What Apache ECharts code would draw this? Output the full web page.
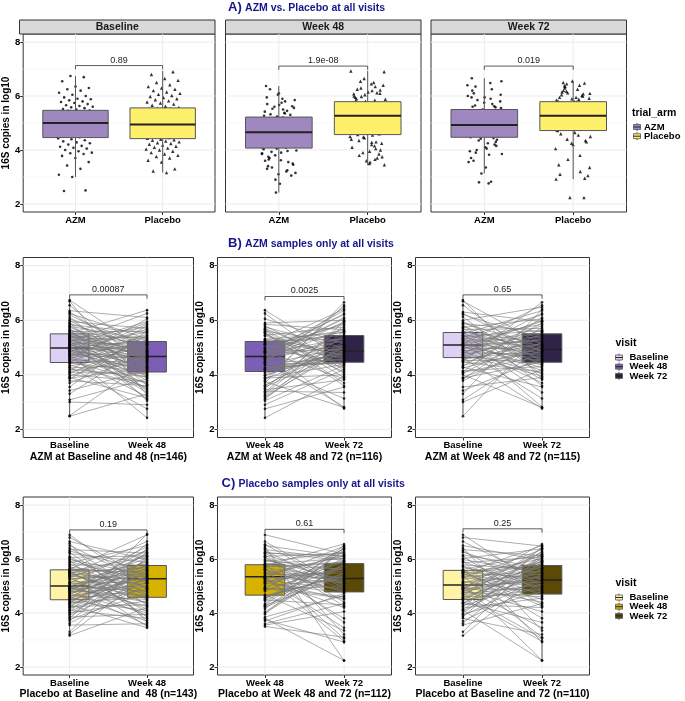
<!DOCTYPE html>
<html>
<head>
<meta charset="utf-8">
<script src="https://cdn.jsdelivr.net/npm/echarts@6/dist/echarts.min.js"></script>
<style>
html,body{margin:0;padding:0;background:#fff;}
#main{width:685px;height:701px;}
</style>
</head>
<body>
<div id="main"></div>
<script>
// ---- ticks / categories
var yTicks = [2, 4, 6, 8];
var yMinor = [3, 5, 7];
var armCats = ['AZM', 'Placebo'];
var facetNames = ['Baseline', 'Week 48', 'Week 72'];

// ---- 16S copies (log10) per subject, AZM arm (null = visit missing)
var azmBase = [2.48,2.50,3.00,3.08,3.30,3.42,3.55,3.70,3.78,3.85,
  3.88,3.90,3.95,4.00,4.05,4.08,4.12,4.15,4.20,4.25,
  4.28,4.32,4.36,4.40,4.43,4.47,4.50,4.52,4.55,4.58,
  4.60,4.62,4.65,4.67,4.70,4.72,4.74,4.76,4.78,4.80,
  4.82,4.84,4.86,4.88,4.90,4.92,4.94,4.96,4.97,4.99,
  5.01,5.03,5.05,5.07,5.09,5.10,5.12,5.14,5.16,5.18,
  5.20,5.22,5.24,5.26,5.28,5.30,5.32,5.34,5.36,5.38,
  5.40,5.42,5.43,5.45,5.46,5.50,5.52,5.55,5.58,5.60,
  5.63,5.66,5.70,5.74,5.78,5.80,5.84,5.88,5.90,5.95,
  6.00,6.05,6.12,6.20,6.25,6.30,6.35,6.55,6.70,6.74];
var azmW48 = [3.30,4.50,2.90,3.85,5.10,4.16,5.62,4.72,3.60,5.45,
  4.25,3.15,4.90,3.75,5.30,4.05,4.60,5.80,3.93,4.37,
  2.75,4.83,3.55,5.03,4.10,5.50,3.70,4.46,6.05,4.28,
  3.20,4.98,5.85,3.90,4.62,5.16,2.42,4.70,5.38,4.19,
  3.50,5.67,4.54,3.96,5.08,4.34,5.90,3.65,4.86,5.24,
  4.03,4.93,3.35,5.56,4.64,5.95,4.22,3.80,5.12,4.48,
  6.25,4.75,3.10,5.42,4.58,5.00,4.13,5.75,3.40,4.88,
  5.19,4.40,5.35,4.65,3.45,4.80,6.37,4.31,5.60,3.98,
  5.20,4.56,3.05,4.67,5.27,4.08,5.53,4.96,3.62,5.70,
  4.43,5.14,3.88,4.78,5.32,4.52,6.10,4.26,3.25,4.85];
var azmW72 = [5.60,null,4.20,4.95,6.40,4.60,3.90,null,5.20,5.75,
  4.47,5.05,null,2.80,5.55,4.70,6.10,4.30,null,5.00,
  3.55,5.90,4.85,null,5.35,4.10,6.66,4.55,5.15,null,
  4.90,2.76,5.65,4.38,null,5.45,3.95,6.25,null,4.75,
  5.80,4.05,null,5.10,4.62,3.13,6.00,null,4.93,5.30,
  null,4.50,5.95,3.70,5.25,null,4.80,6.55,4.25,5.40,
  4.15,null,5.50,4.68,2.82,5.85,null,4.98,3.35,6.20,
  5.62,4.42,null,5.08,3.82,6.35,4.58,null,5.18,4.88,
  null,5.70,4.35,6.05,4.72,null,3.60,5.58,5.02,4.52,
  6.48,null,4.00,5.33,4.83,5.95,null,4.44,5.12,3.85];

// ---- Placebo arm
var plaBase = [3.16,3.22,3.30,3.55,3.62,3.70,3.76,3.80,3.85,3.90,
  3.95,4.00,4.03,4.07,4.10,4.14,4.18,4.21,4.24,4.27,
  4.30,4.33,4.36,4.38,4.40,4.43,4.46,4.49,4.52,4.55,
  4.58,4.60,4.63,4.65,4.68,4.70,4.72,4.75,4.77,4.79,
  4.81,4.83,4.85,4.87,4.89,4.90,4.91,4.92,4.93,4.94,
  4.96,4.99,5.02,5.05,5.08,5.11,5.14,5.17,5.20,5.23,
  5.26,5.29,5.32,5.35,5.37,5.39,5.41,5.43,5.45,5.47,
  5.49,5.51,5.53,5.54,5.55,5.58,5.62,5.66,5.70,5.74,
  5.78,5.82,5.86,5.90,5.94,5.98,6.02,6.06,6.10,6.15,
  6.20,6.25,6.30,6.35,6.42,6.50,6.58,6.65,6.80,6.90];
var plaW48 = [4.20,5.40,6.10,3.60,5.05,5.85,4.75,6.40,3.95,5.30,
  5.60,4.45,6.93,5.15,3.80,5.70,4.90,6.00,4.30,5.50,
  3.45,5.25,6.25,4.60,5.80,4.10,5.45,6.55,4.85,5.35,
  5.95,3.70,5.10,4.50,6.20,5.65,4.00,5.55,4.95,6.35,
  4.65,5.20,3.55,5.90,5.00,6.05,4.40,5.75,5.28,4.25,
  6.15,4.80,5.62,3.90,5.38,6.45,4.57,5.10,null,5.72,
  5.45,4.15,6.30,5.27,3.50,5.82,4.70,6.65,5.18,4.55,
  4.35,5.68,5.00,6.08,4.05,5.52,6.90,4.78,5.33,3.85,
  5.78,4.62,6.50,5.22,3.75,5.42,4.92,6.12,4.48,null,
  5.88,4.28,5.58,6.22,4.68,5.12,3.65,5.98,5.30,4.88];
var plaW72 = [5.50,null,6.20,4.35,5.90,5.10,null,3.20,6.45,5.30,
  4.80,6.05,null,5.65,2.24,5.85,4.55,null,6.30,5.20,
  null,4.20,5.95,5.40,3.65,null,6.10,4.90,5.75,2.95,
  5.60,4.72,null,6.40,5.05,3.05,5.80,null,4.60,6.00,
  5.35,null,4.05,6.25,5.25,4.85,null,6.56,3.45,5.70,
  4.40,5.92,5.15,null,6.15,2.24,5.45,4.75,null,5.88,
  null,6.35,4.95,5.55,3.10,6.02,null,5.00,4.50,5.78,
  6.50,5.28,null,4.25,5.82,3.80,6.18,null,5.12,4.65,
  5.62,null,6.08,4.88,2.92,5.48,6.38,null,4.30,5.68,
  null,5.38,4.78,6.12,3.35,5.95,null,5.22,6.48,4.98];

// ---- box statistics [lower whisker, Q1, median, Q3, upper whisker]
var boxAzmA = [[3.00,4.46,5.00,5.47,6.74],[2.42,4.07,4.66,5.22,6.37],[3.13,4.47,4.93,5.50,6.66]];
var boxPlaA = [[3.16,4.42,4.94,5.56,6.93],[3.44,4.57,5.27,5.79,6.93],[2.92,4.72,5.27,5.79,6.56]];
var pA = ['0.89', '1.9e-08', '0.019'];
var bracketA = [7.13, 7.11, 7.11];

var pairCatsB = [['Baseline','Week 48'],['Week 48','Week 72'],['Baseline','Week 72']];
var pairNamesB = ['AZM at Baseline and 48 (n=146)','AZM at Week 48 and 72 (n=116)','AZM at Week 48 and 72 (n=115)'];
var boxB = [[[2.50,4.45,4.98,5.50,6.75],[2.40,4.10,4.67,5.22,6.40]],
  [[2.40,4.12,4.67,5.22,6.40],[2.75,4.46,4.87,5.44,6.65]],
  [[2.50,4.63,5.09,5.55,6.73],[2.75,4.46,4.93,5.50,6.64]]];
var pB = ['0.00087', '0.0025', '0.65'];
var bracketB = [6.93, 6.87, 6.93];

var pairCatsC = [['Baseline','Week 48'],['Week 48','Week 72'],['Baseline','Week 72']];
var pairNamesC = ['Placebo at Baseline and  48 (n=143)','Placebo at Week 48 and 72 (n=112)','Placebo at Baseline and 72 (n=110)'];
var boxC = [[[3.34,4.49,5.00,5.60,6.88],[3.40,4.58,5.27,5.76,6.90]],
  [[3.45,4.66,5.34,5.79,6.90],[2.85,4.78,5.28,5.83,6.50]],
  [[3.80,4.50,5.04,5.58,6.85],[2.25,4.70,5.22,5.76,6.50]]];
var pC = ['0.19', '0.61', '0.25'];
var bracketC = [7.08, 7.10, 7.12];

var FONT = "'Liberation Sans', Arial, Helvetica, sans-serif";
var NAVY = '#16168c';
var armColors = {'AZM':'#9f88c0', 'Placebo':'#fff06c'};
var visitColB = {'Baseline':'#ddd0f4', 'Week 48':'#7d5eb7', 'Week 72':'#2f2448'};
var visitColC = {'Baseline':'#fff3a6', 'Week 48':'#d7b300', 'Week 72':'#5b4a06'};

var grids = [], xAxes = [], yAxes = [], series = [], graphics = [];

function jit(i, phase){
	var f = (i * 0.6180339887 + phase) % 1;
	return (f - 0.5) * 0.4;
}
function nonNull(arr){
	return arr.filter(function(v){ return v !== null; });
}

function gridSeries(gi){
	return {
		type:'custom', xAxisIndex:gi, yAxisIndex:gi, z:1, silent:true,
		data:[[1.5, 5]],
		renderItem:function(params, api){
			var cs = params.coordSys, ch = [];
			yMinor.forEach(function(v){
				var y = api.coord([1, v])[1];
				ch.push({type:'line', shape:{x1:cs.x, y1:y, x2:cs.x+cs.width, y2:y}, style:{stroke:'#f3f3f3', lineWidth:0.6}});
			});
			yTicks.forEach(function(v){
				var y = api.coord([1, v])[1];
				ch.push({type:'line', shape:{x1:cs.x, y1:y, x2:cs.x+cs.width, y2:y}, style:{stroke:'#ebebeb', lineWidth:1}});
			});
			[1, 2].forEach(function(v){
				var x = api.coord([v, 5])[0];
				ch.push({type:'line', shape:{x1:x, y1:cs.y, x2:x, y2:cs.y+cs.height}, style:{stroke:'#ebebeb', lineWidth:1}});
			});
			return {type:'group', children:ch};
		}
	};
}

function addPanel(left, top, width, height, xCats, showY, xName){
	var gi = grids.length;
	grids.push({left:left, top:top, width:width, height:height, show:true,
		borderColor:'#333', borderWidth:1, backgroundColor:'#fff'});
	xAxes.push({
		gridIndex:gi, type:'value', min:0.4, max:2.6,
		axisLine:{show:false}, splitLine:{show:false},
		axisTick:{show:true, customValues:[1, 2], length:3, lineStyle:{color:'#333'}},
		axisLabel:{customValues:[1, 2], formatter:function(v){ return xCats[Math.round(v) - 1]; },
			color:'#000', fontWeight:'bold', fontSize:9.5, fontFamily:FONT, margin:3},
		name:xName || '', nameLocation:'middle', nameGap:14,
		nameTextStyle:{color:'#000', fontWeight:'bold', fontSize:10.5, fontFamily:FONT}
	});
	yAxes.push({
		gridIndex:gi, type:'value', min:1.7, max:8.3,
		axisLine:{show:false}, splitLine:{show:false},
		axisTick:{show:showY, customValues:yTicks, length:3, lineStyle:{color:'#333'}},
		axisLabel:{show:showY, customValues:yTicks, color:'#000', fontWeight:'bold', fontSize:9.5, fontFamily:FONT, margin:3},
		name:showY ? '16S copies in log10' : '', nameLocation:'middle', nameGap:11, nameRotate:90,
		nameTextStyle:{color:'#000', fontWeight:'bold', fontSize:10, fontFamily:FONT}
	});
	series.push(gridSeries(gi));
	return gi;
}

function boxSeries(gi, stats, colors, halfW, zz, medW){
	return {
		type:'custom', xAxisIndex:gi, yAxisIndex:gi, z:zz, silent:true,
		data:stats.map(function(s, i){ return [i + 1].concat(s); }),
		encode:{x:0, y:[1, 5]},
		renderItem:function(params, api){
			var x = api.value(0);
			var lo = api.coord([x, api.value(1)]), q1 = api.coord([x, api.value(2)]),
				md = api.coord([x, api.value(3)]), q3 = api.coord([x, api.value(4)]),
				hi = api.coord([x, api.value(5)]);
			var l = api.coord([x - halfW, api.value(3)])[0], r = api.coord([x + halfW, api.value(3)])[0];
			var c = colors[params.dataIndex];
			return {type:'group', children:[
				{type:'line', shape:{x1:lo[0], y1:lo[1], x2:lo[0], y2:q1[1]}, style:{stroke:'#555', lineWidth:1}},
				{type:'line', shape:{x1:hi[0], y1:hi[1], x2:hi[0], y2:q3[1]}, style:{stroke:'#555', lineWidth:1}},
				{type:'rect', shape:{x:l, y:q3[1], width:r - l, height:q1[1] - q3[1]}, style:{fill:c, stroke:'#555', lineWidth:1}},
				{type:'line', shape:{x1:l, y1:md[1], x2:r, y2:md[1]}, style:{stroke:'#222', lineWidth:medW}}
			]};
		}
	};
}

function bracketSeries(gi, y, label){
	return {
		type:'custom', xAxisIndex:gi, yAxisIndex:gi, z:8, silent:true,
		data:[[1, y, 2]],
		encode:{x:[0, 2], y:1},
		renderItem:function(params, api){
			var yv = api.value(1);
			var a = api.coord([api.value(0), yv]), b = api.coord([api.value(2), yv]);
			var drop = api.size([0, 0.14])[1];
			return {type:'group', children:[
				{type:'polyline', shape:{points:[[a[0], a[1] + drop], [a[0], a[1]], [b[0], b[1]], [b[0], b[1] + drop]]},
					style:{stroke:'#333', lineWidth:0.8, fill:'none'}},
				{type:'text', x:(a[0] + b[0]) / 2, y:a[1] - 1, style:{text:label, align:'center', verticalAlign:'bottom',
					fontSize:9, fontFamily:FONT, fill:'#222'}}
			]};
		}
	};
}

function pairedPanel(left, top, pre, post, cats, name, stats, colMap, pLabel, bY){
	var gi = addPanel(left, top, 174, top > 400 ? 181.5 : 180, cats, true, name);
	var pairs = [];
	for (var i = 0; i < pre.length; i++) {
		if (pre[i] !== null && post[i] !== null) pairs.push([pre[i], post[i]]);
	}
	series.push(boxSeries(gi, stats, [colMap[cats[0]], colMap[cats[1]]], 0.25, 2, 1.5));
	series.push({
		type:'custom', xAxisIndex:gi, yAxisIndex:gi, z:3, silent:true,
		data:pairs.map(function(p){ return [1, p[0], 2, p[1]]; }),
		encode:{x:[0, 2], y:[1, 3]},
		renderItem:function(params, api){
			var a = api.coord([api.value(0), api.value(1)]), b = api.coord([api.value(2), api.value(3)]);
			return {type:'line', shape:{x1:a[0], y1:a[1], x2:b[0], y2:b[1]}, style:{stroke:'#777', lineWidth:0.6}};
		}
	});
	var pts = [];
	pairs.forEach(function(p){ pts.push([1, p[0]]); pts.push([2, p[1]]); });
	series.push({type:'scatter', xAxisIndex:gi, yAxisIndex:gi, z:4, silent:true, symbol:'circle', symbolSize:2.6,
		itemStyle:{color:'#000'}, data:pts});
	series.push(bracketSeries(gi, bY, pLabel));
}

// ---- row A: facets by visit
var aLefts = [19.5, 225.5, 431];
var azmByVisit = [azmBase, azmW48, azmW72];
var plaByVisit = [plaBase, plaW48, plaW72];
for (var f = 0; f < 3; f++) {
	var gi = addPanel(aLefts[f], 34, 195.5, 178, armCats, f === 0, '');
	series.push({type:'scatter', xAxisIndex:gi, yAxisIndex:gi, z:2, silent:true, symbol:'circle', symbolSize:2.6,
		itemStyle:{color:'#000'},
		data:nonNull(azmByVisit[f]).map(function(v, i){ return [1 + jit(i, 0.17), v]; })});
	series.push({type:'scatter', xAxisIndex:gi, yAxisIndex:gi, z:2, silent:true, symbol:'triangle', symbolSize:3.4,
		itemStyle:{color:'#000'},
		data:nonNull(plaByVisit[f]).map(function(v, i){ return [2 + jit(i, 0.61), v]; })});
	series.push(boxSeries(gi, [boxAzmA[f], boxPlaA[f]], [armColors.AZM, armColors.Placebo], 0.375, 3, 2));
	series.push(bracketSeries(gi, bracketA[f], pA[f]));
	graphics.push({type:'rect', shape:{x:aLefts[f], y:20, width:195.5, height:14},
		style:{fill:'#d9d9d9', stroke:'#333', lineWidth:1}});
	graphics.push({type:'text', x:aLefts[f] + 195.5 / 2, y:27.5, style:{text:facetNames[f], align:'center', verticalAlign:'middle',
		fontSize:10.5, fontWeight:'bold', fontFamily:FONT, fill:'#1a1a1a'}});
}

// ---- rows B and C: paired visits
var pLefts = [19.5, 217.5, 415.5];
var preB = [azmBase, azmW48, azmBase], postB = [azmW48, azmW72, azmW72];
var preC = [plaBase, plaW48, plaBase], postC = [plaW48, plaW72, plaW72];
for (var k = 0; k < 3; k++) {
	pairedPanel(pLefts[k], 257.5, preB[k], postB[k], pairCatsB[k], pairNamesB[k], boxB[k], visitColB, pB[k], bracketB[k]);
}
for (var k2 = 0; k2 < 3; k2++) {
	pairedPanel(pLefts[k2], 497, preC[k2], postC[k2], pairCatsC[k2], pairNamesC[k2], boxC[k2], visitColC, pC[k2], bracketC[k2]);
}

// ---- section titles
function sectionTitle(x, y, letter, text){
	graphics.push({type:'text', x:x, y:y, style:{
		text:'{a|' + letter + ')} {b|' + text + '}', verticalAlign:'middle',
		rich:{a:{fontSize:13, fontWeight:'bold', fontFamily:FONT, fill:NAVY, verticalAlign:'bottom'},
			b:{fontSize:10.5, fontWeight:'bold', fontFamily:FONT, fill:NAVY, verticalAlign:'bottom'}}
	}});
}
sectionTitle(228, 7, 'A', 'AZM vs. Placebo at all visits');
sectionTitle(228, 243.5, 'B', 'AZM samples only at all visits');
sectionTitle(221.5, 483.5, 'C', 'Placebo samples only at all visits');

// ---- legends
function legendKey(x, y, color){
	graphics.push({type:'line', shape:{x1:x, y1:y - 4, x2:x, y2:y + 4}, style:{stroke:'#555', lineWidth:1}});
	graphics.push({type:'rect', shape:{x:x - 3.5, y:y - 2.5, width:7, height:5}, style:{fill:color, stroke:'#555', lineWidth:0.8}});
	graphics.push({type:'line', shape:{x1:x - 3.5, y1:y, x2:x + 3.5, y2:y}, style:{stroke:'#222', lineWidth:1}});
}
function legendBlock(x, y, title, names, colMap, keyX, textX){
	graphics.push({type:'text', x:x, y:y, style:{text:title, verticalAlign:'middle', fontSize:10.5, fontWeight:'bold', fontFamily:FONT, fill:'#000'}});
	names.forEach(function(n, i){
		var yy = y + 14 + i * 9.2;
		legendKey(keyX, yy, colMap[n]);
		graphics.push({type:'text', x:textX, y:yy, style:{text:n, verticalAlign:'middle', fontSize:9.5, fontWeight:'bold', fontFamily:FONT, fill:'#000'}});
	});
}
legendBlock(632, 113, 'trial_arm', armCats, armColors, 637, 644);
legendBlock(615.5, 343.5, 'visit', facetNames, visitColB, 619, 629.5);
legendBlock(615.5, 583.5, 'visit', facetNames, visitColC, 619, 629.5);

var chart = echarts.init(document.getElementById('main'));
chart.setOption({
	animation:false,
	backgroundColor:'#fff',
	textStyle:{fontFamily:FONT},
	grid:grids,
	xAxis:xAxes,
	yAxis:yAxes,
	series:series,
	graphic:graphics
});
</script>
</body>
</html>
